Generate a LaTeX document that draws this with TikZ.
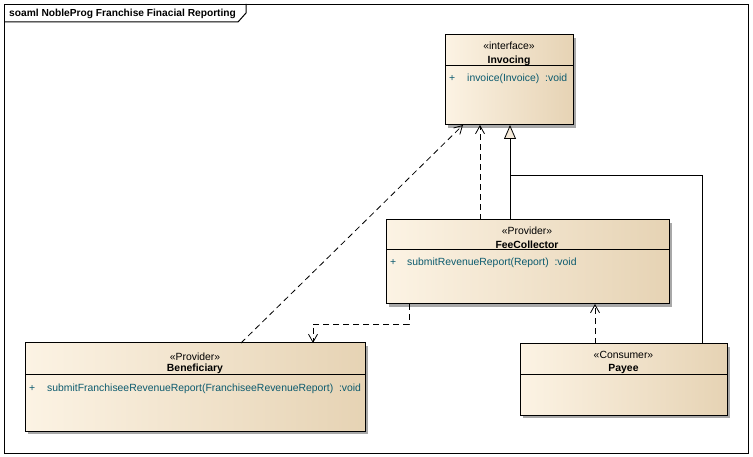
\documentclass[tikz,border=0pt]{standalone}
\usepackage{fontspec}
\setmainfont{Liberation Sans}
\usetikzlibrary{arrows.meta,calc,shadows}
\definecolor{boxleft}{HTML}{FCF3E4}
\definecolor{boxright}{HTML}{E6D3B4}
\definecolor{optext}{HTML}{0B5A6E}
\definecolor{shadowc}{HTML}{A8A8A8}
\definecolor{trifill}{HTML}{F6EBDA}
\begin{document}
\begin{tikzpicture}[x=1pt,y=-1pt,
  classbox/.style={draw=black, line width=1pt, left color=boxleft, right color=boxright,
    general shadow={fill=shadowc, shadow xshift=3pt, shadow yshift=-3pt},
    anchor=north west, inner sep=0pt, outer sep=0pt},
  txt/.style={font=\fontsize{10.4}{12}\selectfont, inner sep=0pt, anchor=base},
  stereo/.style={txt},
  cname/.style={txt, font=\fontsize{10.4}{12}\selectfont\bfseries},
  optxt/.style={txt, anchor=base west, text=optext},
  sep/.style={line width=1pt},
  dep/.style={line width=0.8pt, dash pattern=on 6pt off 4pt, -{Straight Barb[length=8pt,width=9pt,line width=0.8pt]}},
  gen/.style={line width=0.8pt},
  genarrow/.style={line width=0.8pt, -{Triangle[open, fill=trifill, length=14pt, width=12pt, line width=0.8pt]}}
]
\useasboundingbox (0,0) rectangle (753,457);
% frame
\node[draw=black, line width=1pt, anchor=north west, inner sep=0pt, minimum width=744pt, minimum height=449pt] (frame) at (4,4) {};
\draw[line width=1pt] ($(frame.north west)+(0,18)$) -- ($(frame.north west)+(234,18)$) -- ($(frame.north west)+(242,9)$) -- ($(frame.north west)+(242,0)$);
\node[txt, anchor=base west, font=\fontsize{10.2}{12}\selectfont\bfseries] (title) at (9,17) {soaml NobleProg Franchise Finacial Reporting};

% Invocing
\node[classbox, minimum width=128pt, minimum height=90pt] (inv) at (445,35) {};
\draw[sep] (445,66) -- (573,66);
\node[stereo] (invs) at (509,50) {«interface»};
\node[cname] (invn) at (509,64) {Invocing};
\node[optxt] (invp) at (449,82) {+};
\node[optxt] (invo) at (467,82) {invoice(Invoice)\ \ :void};

% FeeCollector
\node[classbox, minimum width=283pt, minimum height=84pt] (fee) at (386,220) {};
\draw[sep] (386,250) -- (669,250);
\node[stereo] (fees) at (527,235) {«Provider»};
\node[cname] (feen) at (527,248.5) {FeeCollector};
\node[optxt] (feep) at (390,266) {+};
\node[optxt] (feeo) at (407,266) {submitRevenueReport(Report)\ \ :void};

% Beneficiary
\node[classbox, minimum width=340pt, minimum height=88pt] (ben) at (25,343) {};
\draw[sep] (25,374) -- (365,374);
\node[stereo] (bens) at (195,360.5) {«Provider»};
\node[cname] (benn) at (195,371) {Beneficiary};
\node[optxt] (benp) at (29,391) {+};
\node[optxt] (beno) at (47,391) {submitFranchiseeRevenueReport(FranchiseeRevenueReport)\ \ :void};

% Payee
\node[classbox, minimum width=207pt, minimum height=71pt] (pay) at (520,344) {};
\draw[sep] (520,374) -- (727,374);
\node[stereo] (pays) at (623.5,359) {«Consumer»};
\node[cname] (payn) at (623.5,371.5) {Payee};

% connectors
\draw[dep] ($(ben.north west)+(216,0)$) -- ($(inv.south west)+(18,0)$);
\draw[dep] ($(fee.north west)+(94,0)$) -- ($(inv.south west)+(35,0)$);
\coordinate (junc) at ($(inv.south west)+(65,50)$);
\draw[gen] ($(pay.north west)+(182,0)$) |- (junc);
\draw[genarrow] ($(fee.north west)+(124,0)$) -- ($(inv.south west)+(65,0)$);
\draw[dep] ($(fee.south west)+(23,0)$) -- ++(0,20) -| ($(ben.north west)+(288,0)$);
\draw[dep] ($(pay.north west)+(75,0)$) -- ($(fee.south west)+(209,0)$);
\end{tikzpicture}
\end{document}
